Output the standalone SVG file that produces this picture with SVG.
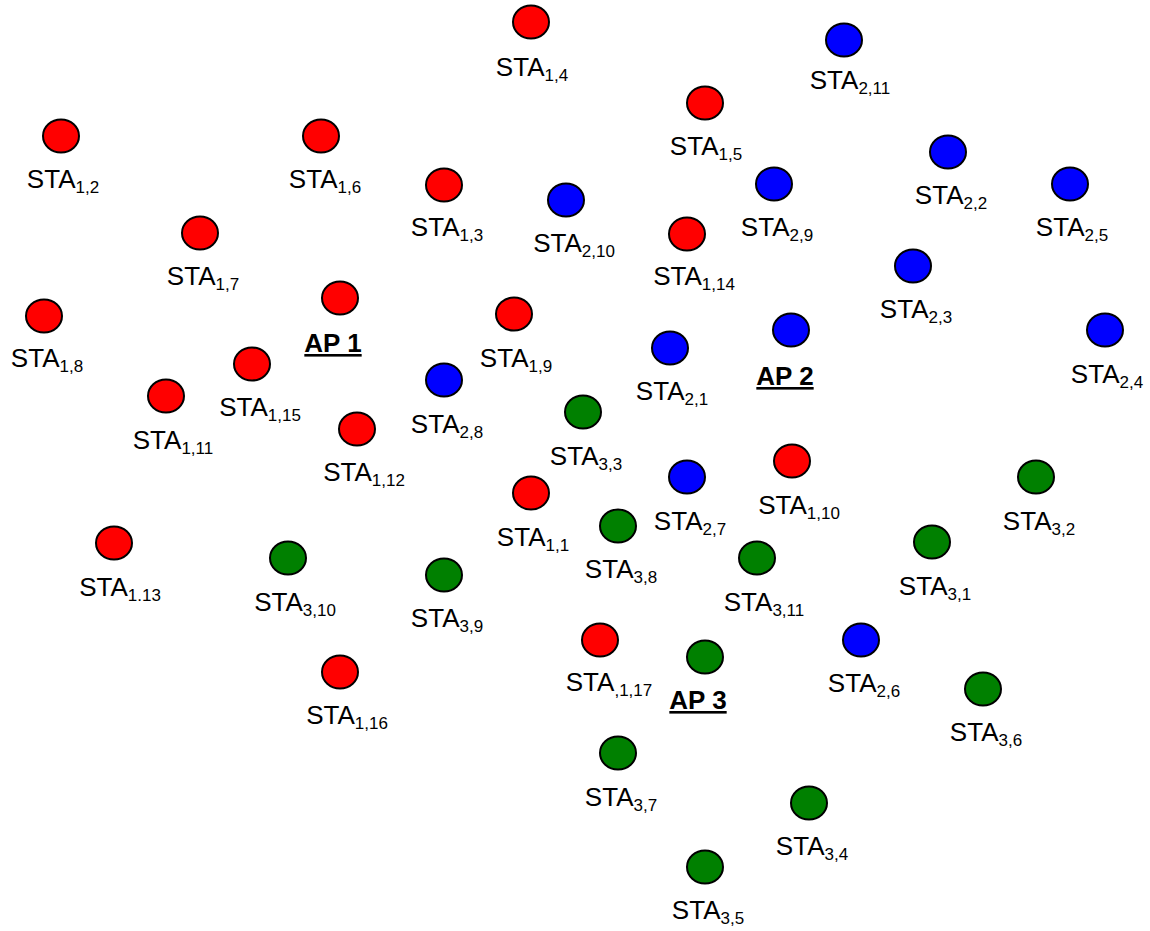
<svg xmlns="http://www.w3.org/2000/svg" width="1150" height="931" viewBox="0 0 1150 931">
  <style>
    .n { stroke: #000; stroke-width: 2; }
    .r { fill: #ff0000; }
    .b { fill: #0000ff; }
    .g { fill: #008000; }
    text { font-family: "Liberation Sans", Arial, sans-serif; font-size: 26px; fill: #000; text-anchor: middle; }
    .sub { font-size: 17px; }
    .ap { font-weight: bold; text-decoration: underline; }
  </style>
  <defs>
    <ellipse id="dot" cx="0" cy="0" rx="18" ry="16.5"/>
  </defs>
  <rect width="1150" height="931" fill="#fff"/>
  <g id="connectors"/>

  <!-- access points -->
  <g id="ap1"><use href="#dot" class="n r" x="340" y="298"/><text class="ap" x="333" y="352">AP 1</text></g>
  <g id="ap2"><use href="#dot" class="n b" x="791" y="330"/><text class="ap" x="785" y="385">AP 2</text></g>
  <g id="ap3"><use href="#dot" class="n g" x="705" y="657"/><text class="ap" x="698" y="709">AP 3</text></g>

  <!-- stations of AP 1 -->
  <g id="sta1_1"><use href="#dot" class="n r" x="531" y="493"/><text x="533" y="546">STA<tspan class="sub" dy="5">1,1</tspan></text></g>
  <g id="sta1_2"><use href="#dot" class="n r" x="61" y="136"/><text x="63" y="188">STA<tspan class="sub" dy="5">1,2</tspan></text></g>
  <g id="sta1_3"><use href="#dot" class="n r" x="444" y="185"/><text x="447" y="236">STA<tspan class="sub" dy="5">1,3</tspan></text></g>
  <g id="sta1_4"><use href="#dot" class="n r" x="531" y="22"/><text x="532" y="76">STA<tspan class="sub" dy="5">1,4</tspan></text></g>
  <g id="sta1_5"><use href="#dot" class="n r" x="705" y="103"/><text x="706" y="155">STA<tspan class="sub" dy="5">1,5</tspan></text></g>
  <g id="sta1_6"><use href="#dot" class="n r" x="321" y="136"/><text x="325" y="188">STA<tspan class="sub" dy="5">1,6</tspan></text></g>
  <g id="sta1_7"><use href="#dot" class="n r" x="200" y="233"/><text x="203" y="285">STA<tspan class="sub" dy="5">1,7</tspan></text></g>
  <g id="sta1_8"><use href="#dot" class="n r" x="44" y="316"/><text x="47" y="367">STA<tspan class="sub" dy="5">1,8</tspan></text></g>
  <g id="sta1_9"><use href="#dot" class="n r" x="514" y="314"/><text x="516" y="367">STA<tspan class="sub" dy="5">1,9</tspan></text></g>
  <g id="sta1_10"><use href="#dot" class="n r" x="792" y="461"/><text x="799" y="514">STA<tspan class="sub" dy="5">1,10</tspan></text></g>
  <g id="sta1_11"><use href="#dot" class="n r" x="166" y="396"/><text x="173" y="449">STA<tspan class="sub" dy="5">1,11</tspan></text></g>
  <g id="sta1_12"><use href="#dot" class="n r" x="357" y="429"/><text x="364" y="481">STA<tspan class="sub" dy="5">1,12</tspan></text></g>
  <g id="sta1_13"><use href="#dot" class="n r" x="114" y="543"/><text x="120" y="596">STA<tspan class="sub" dy="5">1.13</tspan></text></g>
  <g id="sta1_14"><use href="#dot" class="n r" x="687" y="234"/><text x="694" y="285">STA<tspan class="sub" dy="5">1,14</tspan></text></g>
  <g id="sta1_15"><use href="#dot" class="n r" x="252" y="364"/><text x="260" y="416">STA<tspan class="sub" dy="5">1,15</tspan></text></g>
  <g id="sta1_16"><use href="#dot" class="n r" x="340" y="672"/><text x="347" y="724">STA<tspan class="sub" dy="5">1,16</tspan></text></g>
  <g id="sta1_17"><use href="#dot" class="n r" x="600" y="640"/><text x="609" y="691">STA<tspan class="sub" dy="5">,1,17</tspan></text></g>

  <!-- stations of AP 2 -->
  <g id="sta2_1"><use href="#dot" class="n b" x="670" y="348"/><text x="672" y="400">STA<tspan class="sub" dy="5">2,1</tspan></text></g>
  <g id="sta2_2"><use href="#dot" class="n b" x="948" y="152"/><text x="951" y="204">STA<tspan class="sub" dy="5">2,2</tspan></text></g>
  <g id="sta2_3"><use href="#dot" class="n b" x="913" y="266"/><text x="916" y="318">STA<tspan class="sub" dy="5">2,3</tspan></text></g>
  <g id="sta2_4"><use href="#dot" class="n b" x="1105" y="330"/><text x="1107" y="383">STA<tspan class="sub" dy="5">2,4</tspan></text></g>
  <g id="sta2_5"><use href="#dot" class="n b" x="1070" y="184"/><text x="1072" y="236">STA<tspan class="sub" dy="5">2,5</tspan></text></g>
  <g id="sta2_6"><use href="#dot" class="n b" x="861" y="640"/><text x="864" y="692">STA<tspan class="sub" dy="5">2,6</tspan></text></g>
  <g id="sta2_7"><use href="#dot" class="n b" x="687" y="477"/><text x="690" y="530">STA<tspan class="sub" dy="5">2,7</tspan></text></g>
  <g id="sta2_8"><use href="#dot" class="n b" x="444" y="380"/><text x="447" y="433">STA<tspan class="sub" dy="5">2,8</tspan></text></g>
  <g id="sta2_9"><use href="#dot" class="n b" x="774" y="184"/><text x="777" y="236">STA<tspan class="sub" dy="5">2,9</tspan></text></g>
  <g id="sta2_10"><use href="#dot" class="n b" x="566" y="200"/><text x="574" y="252">STA<tspan class="sub" dy="5">2,10</tspan></text></g>
  <g id="sta2_11"><use href="#dot" class="n b" x="844" y="40"/><text x="850" y="89">STA<tspan class="sub" dy="5">2,11</tspan></text></g>

  <!-- stations of AP 3 -->
  <g id="sta3_1"><use href="#dot" class="n g" x="932" y="542"/><text x="935" y="595">STA<tspan class="sub" dy="5">3,1</tspan></text></g>
  <g id="sta3_2"><use href="#dot" class="n g" x="1036" y="477"/><text x="1039" y="530">STA<tspan class="sub" dy="5">3,2</tspan></text></g>
  <g id="sta3_3"><use href="#dot" class="n g" x="583" y="412"/><text x="586" y="465">STA<tspan class="sub" dy="5">3,3</tspan></text></g>
  <g id="sta3_4"><use href="#dot" class="n g" x="809" y="803"/><text x="812" y="855">STA<tspan class="sub" dy="5">3,4</tspan></text></g>
  <g id="sta3_5"><use href="#dot" class="n g" x="705" y="867"/><text x="708" y="919">STA<tspan class="sub" dy="5">3,5</tspan></text></g>
  <g id="sta3_6"><use href="#dot" class="n g" x="983" y="689"/><text x="986" y="741">STA<tspan class="sub" dy="5">3,6</tspan></text></g>
  <g id="sta3_7"><use href="#dot" class="n g" x="618" y="753"/><text x="621" y="806">STA<tspan class="sub" dy="5">3,7</tspan></text></g>
  <g id="sta3_8"><use href="#dot" class="n g" x="618" y="526"/><text x="621" y="578">STA<tspan class="sub" dy="5">3,8</tspan></text></g>
  <g id="sta3_9"><use href="#dot" class="n g" x="444" y="575"/><text x="447" y="627">STA<tspan class="sub" dy="5">3,9</tspan></text></g>
  <g id="sta3_10"><use href="#dot" class="n g" x="288" y="558"/><text x="295" y="611">STA<tspan class="sub" dy="5">3,10</tspan></text></g>
  <g id="sta3_11"><use href="#dot" class="n g" x="757" y="558"/><text x="764" y="611">STA<tspan class="sub" dy="5">3,11</tspan></text></g>
</svg>
